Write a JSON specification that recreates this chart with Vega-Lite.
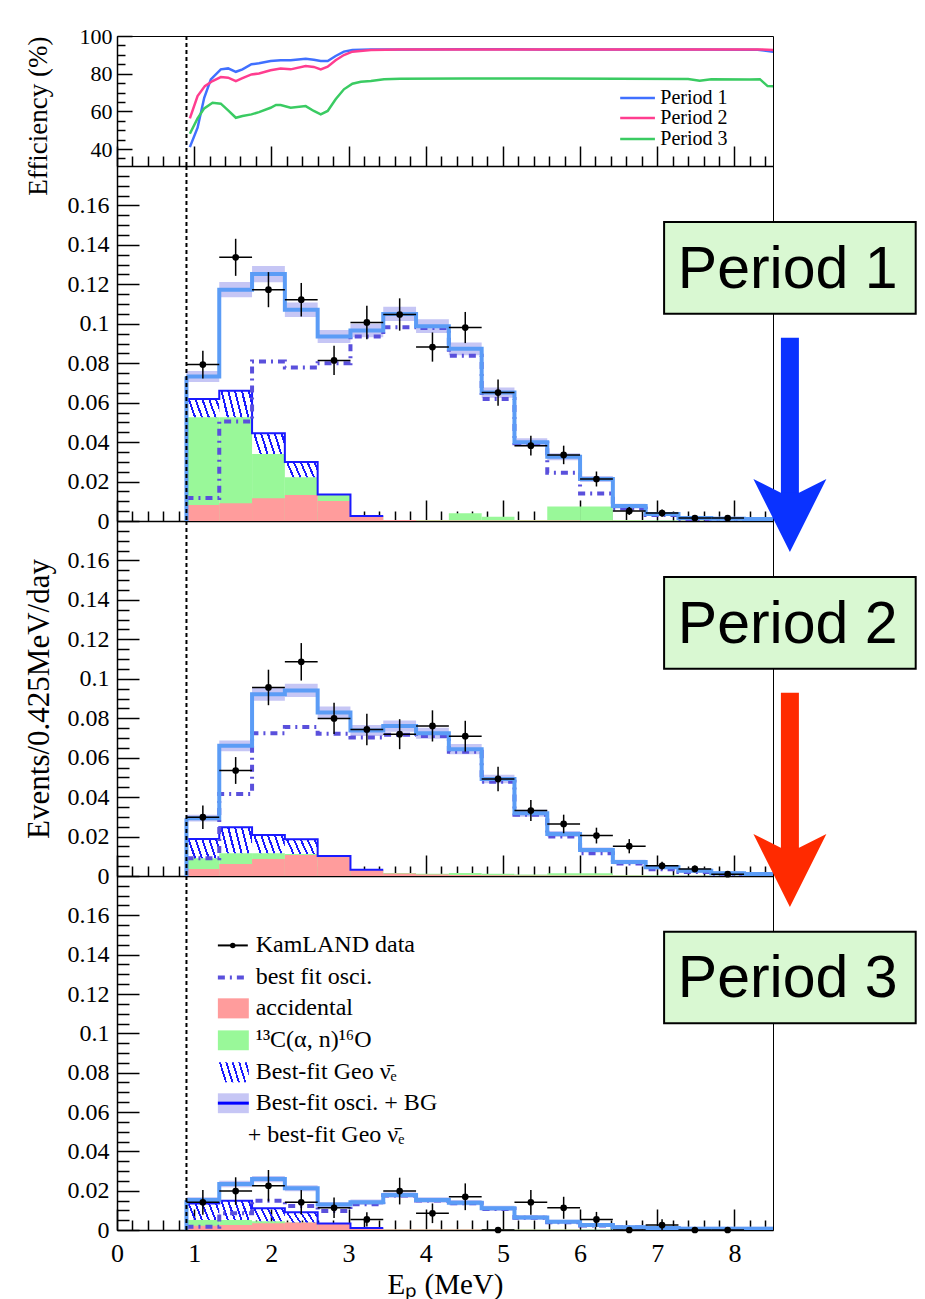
{
  "$schema": "https://vega.github.io/schema/vega-lite/v6.json",
  "background": "white",
  "padding": {"left": 22, "top": 24, "right": 0, "bottom": 0},
  "spacing": 0,
  "bounds": "flush",
  "config": {
    "view": {"stroke": "black", "strokeWidth": 1},
    "axis": {"labelFont": "Liberation Serif", "titleFont": "Liberation Serif", "labelColor": "black", "titleColor": "black", "titleFontWeight": "normal", "domainColor": "black", "domainWidth": 1.5, "tickColor": "black", "tickWidth": 1.5, "grid": false, "labelOverlap": false, "labelFlush": false, "labelBound": false},
    "text": {"font": "Liberation Serif"}
  },
  "datasets": {
    "eff": [
      {"period":"Period 1","E":0.944,"eff":41.0},{"period":"Period 1","E":1.044,"eff":51.3},{"period":"Period 1","E":1.13,"eff":67.2},{"period":"Period 1","E":1.216,"eff":77.0},{"period":"Period 1","E":1.345,"eff":82.3},{"period":"Period 1","E":1.44,"eff":82.8},{"period":"Period 1","E":1.54,"eff":81.0},{"period":"Period 1","E":1.626,"eff":82.3},{"period":"Period 1","E":1.742,"eff":85.0},{"period":"Period 1","E":1.84,"eff":85.5},{"period":"Period 1","E":1.99,"eff":86.7},{"period":"Period 1","E":2.12,"eff":87.1},{"period":"Period 1","E":2.25,"eff":87.1},{"period":"Period 1","E":2.445,"eff":87.9},{"period":"Period 1","E":2.55,"eff":87.4},{"period":"Period 1","E":2.64,"eff":86.7},{"period":"Period 1","E":2.73,"eff":86.7},{"period":"Period 1","E":2.833,"eff":89.4},{"period":"Period 1","E":2.94,"eff":91.7},{"period":"Period 1","E":3.05,"eff":92.6},{"period":"Period 1","E":3.29,"eff":92.9},{"period":"Period 1","E":3.67,"eff":92.9},{"period":"Period 1","E":4.5,"eff":93.0},{"period":"Period 1","E":5.5,"eff":92.9},{"period":"Period 1","E":6.5,"eff":92.9},{"period":"Period 1","E":7.5,"eff":92.8},{"period":"Period 1","E":8.3,"eff":92.7},{"period":"Period 1","E":8.52,"eff":91.6},
      {"period":"Period 2","E":0.944,"eff":56.3},{"period":"Period 2","E":1.044,"eff":68.1},{"period":"Period 2","E":1.138,"eff":73.4},{"period":"Period 2","E":1.238,"eff":76.1},{"period":"Period 2","E":1.345,"eff":78.2},{"period":"Period 2","E":1.44,"eff":77.9},{"period":"Period 2","E":1.54,"eff":76.1},{"period":"Period 2","E":1.626,"eff":77.6},{"period":"Period 2","E":1.742,"eff":79.6},{"period":"Period 2","E":1.84,"eff":80.1},{"period":"Period 2","E":1.99,"eff":81.8},{"period":"Period 2","E":2.12,"eff":82.8},{"period":"Period 2","E":2.25,"eff":82.3},{"period":"Period 2","E":2.445,"eff":84.1},{"period":"Period 2","E":2.55,"eff":83.6},{"period":"Period 2","E":2.64,"eff":82.3},{"period":"Period 2","E":2.73,"eff":83.7},{"period":"Period 2","E":2.833,"eff":87.1},{"period":"Period 2","E":2.94,"eff":89.9},{"period":"Period 2","E":3.05,"eff":91.7},{"period":"Period 2","E":3.29,"eff":92.6},{"period":"Period 2","E":3.67,"eff":92.9},{"period":"Period 2","E":4.5,"eff":92.9},{"period":"Period 2","E":5.5,"eff":92.9},{"period":"Period 2","E":6.5,"eff":92.8},{"period":"Period 2","E":7.5,"eff":92.8},{"period":"Period 2","E":8.3,"eff":92.9},{"period":"Period 2","E":8.52,"eff":92.6},
      {"period":"Period 3","E":0.944,"eff":48.1},{"period":"Period 3","E":1.044,"eff":56.3},{"period":"Period 3","E":1.13,"eff":61.6},{"period":"Period 3","E":1.238,"eff":64.6},{"period":"Period 3","E":1.345,"eff":64.1},{"period":"Period 3","E":1.44,"eff":60.5},{"period":"Period 3","E":1.54,"eff":56.6},{"period":"Period 3","E":1.626,"eff":57.5},{"period":"Period 3","E":1.742,"eff":58.4},{"period":"Period 3","E":1.84,"eff":59.6},{"period":"Period 3","E":1.99,"eff":61.9},{"period":"Period 3","E":2.06,"eff":63.4},{"period":"Period 3","E":2.12,"eff":63.4},{"period":"Period 3","E":2.25,"eff":61.9},{"period":"Period 3","E":2.445,"eff":62.8},{"period":"Period 3","E":2.55,"eff":60.2},{"period":"Period 3","E":2.64,"eff":58.4},{"period":"Period 3","E":2.73,"eff":60.2},{"period":"Period 3","E":2.833,"eff":66.4},{"period":"Period 3","E":2.94,"eff":71.7},{"period":"Period 3","E":3.05,"eff":74.7},{"period":"Period 3","E":3.16,"eff":75.7},{"period":"Period 3","E":3.29,"eff":76.1},{"period":"Period 3","E":3.46,"eff":77.0},{"period":"Period 3","E":3.67,"eff":77.3},{"period":"Period 3","E":4.5,"eff":77.4},{"period":"Period 3","E":5.5,"eff":77.4},{"period":"Period 3","E":6.5,"eff":77.3},{"period":"Period 3","E":7.4,"eff":77.2},{"period":"Period 3","E":7.55,"eff":76.2},{"period":"Period 3","E":7.7,"eff":77.0},{"period":"Period 3","E":8.2,"eff":76.9},{"period":"Period 3","E":8.33,"eff":77.1},{"period":"Period 3","E":8.43,"eff":73.4},{"period":"Period 3","E":8.52,"eff":73.3}
    ],
    "spec": [
      {"p":1,"i":0,"lo":0.9,"hi":1.325,"c":1.1125,"dat":0.0793,"dlo":0.0723,"dhi":0.0863,"fit":0.0733,"flo":0.0705,"fhi":0.0761,"osc":0.0117,"acc":0.0081,"bg":0.0526,"geo":0.0619},
      {"p":1,"i":1,"lo":1.325,"hi":1.75,"c":1.5375,"dat":0.1337,"dlo":0.1243,"dhi":0.1431,"fit":0.1173,"flo":0.1134,"fhi":0.1212,"osc":0.0504,"acc":0.0090,"bg":0.0526,"geo":0.0661},
      {"p":1,"i":2,"lo":1.75,"hi":2.175,"c":1.9625,"dat":0.1173,"dlo":0.1084,"dhi":0.1262,"fit":0.1252,"flo":0.1211,"fhi":0.1293,"osc":0.0809,"acc":0.0115,"bg":0.0340,"geo":0.0445},
      {"p":1,"i":3,"lo":2.175,"hi":2.6,"c":2.3875,"dat":0.1122,"dlo":0.1037,"dhi":0.1207,"fit":0.1071,"flo":0.1034,"fhi":0.1108,"osc":0.0778,"acc":0.0132,"bg":0.0222,"geo":0.0299},
      {"p":1,"i":4,"lo":2.6,"hi":3.025,"c":2.8125,"dat":0.0814,"dlo":0.0740,"dhi":0.0888,"fit":0.0936,"flo":0.0903,"fhi":0.0969,"osc":0.0800,"acc":0.0102,"bg":0.0132,"geo":0.0135},
      {"p":1,"i":5,"lo":3.025,"hi":3.45,"c":3.2375,"dat":0.1007,"dlo":0.0922,"dhi":0.1092,"fit":0.0966,"flo":0.0932,"fhi":0.1000,"osc":0.0936,"acc":0.0025,"bg":0.0025,"geo":0.0025},
      {"p":1,"i":6,"lo":3.45,"hi":3.875,"c":3.6625,"dat":0.1047,"dlo":0.0965,"dhi":0.1129,"fit":0.1050,"flo":0.1014,"fhi":0.1086,"osc":0.0983,"acc":0.0005,"bg":0.0005,"geo":0.0005},
      {"p":1,"i":7,"lo":3.875,"hi":4.3,"c":4.0875,"dat":0.0882,"dlo":0.0808,"dhi":0.0956,"fit":0.0988,"flo":0.0953,"fhi":0.1023,"osc":0.0978,"acc":0.0003,"bg":0.0005,"geo":0.0005},
      {"p":1,"i":8,"lo":4.3,"hi":4.725,"c":4.5125,"dat":0.0981,"dlo":0.0902,"dhi":0.1060,"fit":0.0873,"flo":0.0841,"fhi":0.0905,"osc":0.0838,"acc":0.0003,"bg":0.0039,"geo":0.0039},
      {"p":1,"i":9,"lo":4.725,"hi":5.15,"c":4.9375,"dat":0.0651,"dlo":0.0585,"dhi":0.0717,"fit":0.0651,"flo":0.0625,"fhi":0.0677,"osc":0.0619,"acc":0.0002,"bg":0.0022,"geo":0.0022},
      {"p":1,"i":10,"lo":5.15,"hi":5.575,"c":5.3625,"dat":0.0382,"dlo":0.0332,"dhi":0.0432,"fit":0.0399,"flo":0.0379,"fhi":0.0419,"osc":0.0394,"acc":0.0002,"bg":0.0005,"geo":0.0005},
      {"p":1,"i":11,"lo":5.575,"hi":6,"c":5.7875,"dat":0.0335,"dlo":0.0288,"dhi":0.0382,"fit":0.0326,"flo":0.0308,"fhi":0.0344,"osc":0.0245,"acc":0.0002,"bg":0.0073,"geo":0.0073},
      {"p":1,"i":12,"lo":6,"hi":6.425,"c":6.2125,"dat":0.0213,"dlo":0.0175,"dhi":0.0251,"fit":0.0213,"flo":0.0198,"fhi":0.0228,"osc":0.0140,"acc":0.0001,"bg":0.0073,"geo":0.0073},
      {"p":1,"i":13,"lo":6.425,"hi":6.85,"c":6.6375,"dat":0.0051,"dlo":0.0031,"dhi":0.0071,"fit":0.0076,"flo":0.0064,"fhi":0.0088,"osc":0.0064,"acc":0.0001,"bg":0.0005,"geo":0.0005},
      {"p":1,"i":14,"lo":6.85,"hi":7.275,"c":7.0625,"dat":0.0040,"dlo":0.0022,"dhi":0.0058,"fit":0.0036,"flo":0.0026,"fhi":0.0046,"osc":0.0030,"acc":0,"bg":0.0002,"geo":0.0002},
      {"p":1,"i":15,"lo":7.275,"hi":7.7,"c":7.4875,"dat":0.0015,"dlo":0.0004,"dhi":0.0026,"fit":0.0015,"flo":0.0005,"fhi":0.0025,"osc":0.0010,"acc":0,"bg":0.0001,"geo":0.0001},
      {"p":1,"i":16,"lo":7.7,"hi":8.125,"c":7.9125,"dat":0.0015,"dlo":0.0004,"dhi":0.0026,"fit":0.0012,"flo":0.0002,"fhi":0.0022,"osc":0.0010,"acc":0,"bg":0.0001,"geo":0.0001},
      {"p":1,"i":17,"lo":8.125,"hi":8.55,"c":8.3375,"dat":null,"dlo":null,"dhi":null,"fit":0.0010,"flo":0.0000,"fhi":0.0020,"osc":0.0010,"acc":0,"bg":0.0001,"geo":0.0001},

      {"p":2,"i":0,"lo":0.9,"hi":1.325,"c":1.1125,"dat":0.0298,"dlo":0.0238,"dhi":0.0358,"fit":0.0293,"flo":0.0276,"fhi":0.0310,"osc":0.0090,"acc":0.0036,"bg":0.0090,"geo":0.0188},
      {"p":2,"i":1,"lo":1.325,"hi":1.75,"c":1.5375,"dat":0.0535,"dlo":0.0467,"dhi":0.0603,"fit":0.0660,"flo":0.0633,"fhi":0.0687,"osc":0.0416,"acc":0.0061,"bg":0.0115,"geo":0.0247},
      {"p":2,"i":2,"lo":1.75,"hi":2.175,"c":1.9625,"dat":0.0956,"dlo":0.0866,"dhi":0.1046,"fit":0.0922,"flo":0.0889,"fhi":0.0955,"osc":0.0724,"acc":0.0086,"bg":0.0115,"geo":0.0208},
      {"p":2,"i":3,"lo":2.175,"hi":2.6,"c":2.3875,"dat":0.1086,"dlo":0.0991,"dhi":0.1181,"fit":0.0941,"flo":0.0907,"fhi":0.0975,"osc":0.0755,"acc":0.0107,"bg":0.0112,"geo":0.0186},
      {"p":2,"i":4,"lo":2.6,"hi":3.025,"c":2.8125,"dat":0.0799,"dlo":0.0720,"dhi":0.0878,"fit":0.0829,"flo":0.0798,"fhi":0.0860,"osc":0.0721,"acc":0.0098,"bg":0.0102,"geo":0.0102},
      {"p":2,"i":5,"lo":3.025,"hi":3.45,"c":3.2375,"dat":0.0743,"dlo":0.0663,"dhi":0.0823,"fit":0.0738,"flo":0.0710,"fhi":0.0766,"osc":0.0702,"acc":0.0030,"bg":0.0032,"geo":0.0032},
      {"p":2,"i":6,"lo":3.45,"hi":3.875,"c":3.6625,"dat":0.0719,"dlo":0.0643,"dhi":0.0795,"fit":0.0760,"flo":0.0731,"fhi":0.0789,"osc":0.0716,"acc":0.0013,"bg":0.0015,"geo":0.0015},
      {"p":2,"i":7,"lo":3.875,"hi":4.3,"c":4.0875,"dat":0.0761,"dlo":0.0682,"dhi":0.0840,"fit":0.0724,"flo":0.0696,"fhi":0.0752,"osc":0.0710,"acc":0.0008,"bg":0.0012,"geo":0.0012},
      {"p":2,"i":8,"lo":4.3,"hi":4.725,"c":4.5125,"dat":0.0709,"dlo":0.0631,"dhi":0.0787,"fit":0.0643,"flo":0.0617,"fhi":0.0669,"osc":0.0630,"acc":0.0005,"bg":0.0015,"geo":0.0015},
      {"p":2,"i":9,"lo":4.725,"hi":5.15,"c":4.9375,"dat":0.0492,"dlo":0.0430,"dhi":0.0554,"fit":0.0492,"flo":0.0470,"fhi":0.0514,"osc":0.0478,"acc":0.0004,"bg":0.0012,"geo":0.0012},
      {"p":2,"i":10,"lo":5.15,"hi":5.575,"c":5.3625,"dat":0.0332,"dlo":0.0279,"dhi":0.0385,"fit":0.0318,"flo":0.0300,"fhi":0.0336,"osc":0.0310,"acc":0.0003,"bg":0.0008,"geo":0.0008},
      {"p":2,"i":11,"lo":5.575,"hi":6,"c":5.7875,"dat":0.0264,"dlo":0.0217,"dhi":0.0311,"fit":0.0213,"flo":0.0198,"fhi":0.0228,"osc":0.0200,"acc":0.0002,"bg":0.0014,"geo":0.0014},
      {"p":2,"i":12,"lo":6,"hi":6.425,"c":6.2125,"dat":0.0205,"dlo":0.0165,"dhi":0.0245,"fit":0.0132,"flo":0.0119,"fhi":0.0145,"osc":0.0115,"acc":0.0002,"bg":0.0014,"geo":0.0014},
      {"p":2,"i":13,"lo":6.425,"hi":6.85,"c":6.6375,"dat":0.0151,"dlo":0.0115,"dhi":0.0187,"fit":0.0071,"flo":0.0059,"fhi":0.0083,"osc":0.0064,"acc":0.0001,"bg":0.0004,"geo":0.0004},
      {"p":2,"i":14,"lo":6.85,"hi":7.275,"c":7.0625,"dat":0.0052,"dlo":0.0032,"dhi":0.0072,"fit":0.0044,"flo":0.0034,"fhi":0.0054,"osc":0.0034,"acc":0,"bg":0.0002,"geo":0.0002},
      {"p":2,"i":15,"lo":7.275,"hi":7.7,"c":7.4875,"dat":0.0036,"dlo":0.0019,"dhi":0.0053,"fit":0.0027,"flo":0.0017,"fhi":0.0037,"osc":0.0020,"acc":0,"bg":0.0001,"geo":0.0001},
      {"p":2,"i":16,"lo":7.7,"hi":8.125,"c":7.9125,"dat":0.0009,"dlo":0.0001,"dhi":0.0017,"fit":0.0014,"flo":0.0004,"fhi":0.0024,"osc":0.0010,"acc":0,"bg":0.0001,"geo":0.0001},
      {"p":2,"i":17,"lo":8.125,"hi":8.55,"c":8.3375,"dat":null,"dlo":null,"dhi":null,"fit":0.0010,"flo":0.0000,"fhi":0.0020,"osc":0.0010,"acc":0,"bg":0.0001,"geo":0.0001},

      {"p":3,"i":0,"lo":0.9,"hi":1.325,"c":1.1125,"dat":0.0141,"dlo":0.0078,"dhi":0.0204,"fit":0.0152,"flo":0.0138,"fhi":0.0166,"osc":0.0017,"acc":0.0022,"bg":0.0051,"geo":0.0135},
      {"p":3,"i":1,"lo":1.325,"hi":1.75,"c":1.5375,"dat":0.0198,"dlo":0.0128,"dhi":0.0268,"fit":0.0234,"flo":0.0218,"fhi":0.0250,"osc":0.0085,"acc":0.0025,"bg":0.0051,"geo":0.0149},
      {"p":3,"i":2,"lo":1.75,"hi":2.175,"c":1.9625,"dat":0.0225,"dlo":0.0145,"dhi":0.0305,"fit":0.0259,"flo":0.0243,"fhi":0.0275,"osc":0.0149,"acc":0.0034,"bg":0.0045,"geo":0.0110},
      {"p":3,"i":3,"lo":2.175,"hi":2.6,"c":2.3875,"dat":0.0141,"dlo":0.0079,"dhi":0.0203,"fit":0.0212,"flo":0.0197,"fhi":0.0227,"osc":0.0122,"acc":0.0038,"bg":0.0038,"geo":0.0090},
      {"p":3,"i":4,"lo":2.6,"hi":3.025,"c":2.8125,"dat":0.0113,"dlo":0.0061,"dhi":0.0165,"fit":0.0130,"flo":0.0117,"fhi":0.0143,"osc":0.0097,"acc":0.0030,"bg":0.0033,"geo":0.0033},
      {"p":3,"i":5,"lo":3.025,"hi":3.45,"c":3.2375,"dat":0.0054,"dlo":0.0018,"dhi":0.0090,"fit":0.0141,"flo":0.0127,"fhi":0.0155,"osc":0.0131,"acc":0.0010,"bg":0.0010,"geo":0.0010},
      {"p":3,"i":6,"lo":3.45,"hi":3.875,"c":3.6625,"dat":0.0198,"dlo":0.0130,"dhi":0.0266,"fit":0.0178,"flo":0.0164,"fhi":0.0192,"osc":0.0175,"acc":0.0003,"bg":0.0003,"geo":0.0003},
      {"p":3,"i":7,"lo":3.875,"hi":4.3,"c":4.0875,"dat":0.0085,"dlo":0.0035,"dhi":0.0135,"fit":0.0152,"flo":0.0138,"fhi":0.0166,"osc":0.0150,"acc":0.0002,"bg":0.0002,"geo":0.0002},
      {"p":3,"i":8,"lo":4.3,"hi":4.725,"c":4.5125,"dat":0.0169,"dlo":0.0101,"dhi":0.0237,"fit":0.0139,"flo":0.0126,"fhi":0.0152,"osc":0.0136,"acc":0.0002,"bg":0.0003,"geo":0.0003},
      {"p":3,"i":9,"lo":4.725,"hi":5.15,"c":4.9375,"dat":0,"dlo":0,"dhi":0,"fit":0.0110,"flo":0.0097,"fhi":0.0123,"osc":0.0107,"acc":0.0001,"bg":0.0003,"geo":0.0003},
      {"p":3,"i":10,"lo":5.15,"hi":5.575,"c":5.3625,"dat":0.0141,"dlo":0.0078,"dhi":0.0204,"fit":0.0064,"flo":0.0052,"fhi":0.0076,"osc":0.0062,"acc":0.0001,"bg":0.0002,"geo":0.0002},
      {"p":3,"i":11,"lo":5.575,"hi":6,"c":5.7875,"dat":0.0113,"dlo":0.0057,"dhi":0.0169,"fit":0.0042,"flo":0.0032,"fhi":0.0052,"osc":0.0040,"acc":0.0001,"bg":0.0002,"geo":0.0002},
      {"p":3,"i":12,"lo":6,"hi":6.425,"c":6.2125,"dat":0.0054,"dlo":0.0016,"dhi":0.0092,"fit":0.0025,"flo":0.0015,"fhi":0.0035,"osc":0.0023,"acc":0,"bg":0.0001,"geo":0.0001},
      {"p":3,"i":13,"lo":6.425,"hi":6.85,"c":6.6375,"dat":0,"dlo":0,"dhi":0,"fit":0.0014,"flo":0.0004,"fhi":0.0024,"osc":0.0013,"acc":0,"bg":0.0001,"geo":0.0001},
      {"p":3,"i":14,"lo":6.85,"hi":7.275,"c":7.0625,"dat":0.0025,"dlo":0.0000,"dhi":0.0055,"fit":0.0010,"flo":0.0000,"fhi":0.0020,"osc":0.0009,"acc":0,"bg":0.0001,"geo":0.0001},
      {"p":3,"i":15,"lo":7.275,"hi":7.7,"c":7.4875,"dat":0,"dlo":0,"dhi":0,"fit":0.0006,"flo":0.0000,"fhi":0.0016,"osc":0.0005,"acc":0,"bg":0.0001,"geo":0.0001},
      {"p":3,"i":16,"lo":7.7,"hi":8.125,"c":7.9125,"dat":0,"dlo":0,"dhi":0,"fit":0.0006,"flo":0.0000,"fhi":0.0016,"osc":0.0005,"acc":0,"bg":0.0001,"geo":0.0001},
      {"p":3,"i":17,"lo":8.125,"hi":8.55,"c":8.3375,"dat":null,"dlo":null,"dhi":null,"fit":0.0006,"flo":0.0000,"fhi":0.0016,"osc":0.0005,"acc":0,"bg":0.0001,"geo":0.0001}
    ]
  },
  "vconcat": [
    {
      "width": 656, "height": 130,
      "data": {"name": "eff"},
      "layer": [
        {
          "mark": {"type": "line", "strokeWidth": 2.5, "clip": true},
          "encoding": {
            "x": {"field": "E", "type": "quantitative", "scale": {"domain": [0, 8.5], "nice": false, "zero": false},
                  "axis": {"values": [0,0.2,0.4,0.6,0.8,1,1.2,1.4,1.6,1.8,2,2.2,2.4,2.6,2.8,3,3.2,3.4,3.6,3.8,4,4.2,4.4,4.6,4.8,5,5.2,5.4,5.6,5.8,6,6.2,6.4,6.6,6.8,7,7.2,7.4,7.6,7.8,8,8.2,8.4],
                           "tickCount": 200,
                           "tickSize": {"condition": {"test": "abs(datum.value - round(datum.value)) < 0.001", "value": -20}, "value": -10},
                           "labels": false, "labelOverlap": false, "title": null}},
            "y": {"field": "eff", "type": "quantitative", "scale": {"domain": [31, 100], "nice": false, "zero": false},
                  "axis": {"values": [35,40,45,50,55,60,65,70,75,80,85,90,95,100],
                           "tickCount": 200,
                           "tickSize": {"condition": {"test": "datum.value % 20 == 0", "value": -15}, "value": -8},
                           "labelExpr": "datum.value % 20 == 0 ? format(datum.value, 'd') : ''",
                           "labelOverlap": false, "labelFlush": false,
                           "labelFontSize": 22, "labelPadding": 20, "labelBaseline": "middle",
                           "title": "Efficiency (%)", "titleFontSize": 27, "titlePadding": 27, "titleAnchor": "end"}},
            "color": {"field": "period", "type": "nominal", "scale": {"domain": ["Period 1", "Period 2", "Period 3"], "range": ["#4070ff", "#ff3d8f", "#3acb62"]}, "legend": null}
          }
        },
        {
          "data": {"values": [{"period": "Period 1", "ly": 67.1}, {"period": "Period 2", "ly": 56.5}, {"period": "Period 3", "ly": 45.3}]},
          "mark": {"type": "rule", "strokeWidth": 2.5},
          "encoding": {
            "x": {"datum": 6.52}, "x2": {"datum": 6.97},
            "y": {"field": "ly", "type": "quantitative"},
            "color": {"field": "period", "type": "nominal"}
          }
        },
        {
          "data": {"values": [{"period": "Period 1", "ly": 67.1}, {"period": "Period 2", "ly": 56.5}, {"period": "Period 3", "ly": 45.3}]},
          "mark": {"type": "text", "fontSize": 20, "align": "left", "baseline": "middle", "color": "black"},
          "encoding": {
            "x": {"datum": 7.04},
            "y": {"field": "ly", "type": "quantitative"},
            "text": {"field": "period"}
          }
        },
        {
          "data": {"values": [{}]},
          "mark": {"type": "rule", "strokeDash": [4, 3], "strokeWidth": 2, "color": "black"},
          "encoding": {"x": {"datum": 0.9}}
        }
      ]
    },
    {
      "width": 656, "height": 355,
      "data": {"name": "spec"},
      "transform": [{"filter": "datum.p == 1"}],
      "layer": [
        {
          "mark": {"type": "rect", "color": "#99f899", "clip": true},
          "encoding": {
            "x": {"field": "lo", "type": "quantitative", "scale": {"domain": [0, 8.5], "nice": false, "zero": false},
                  "axis": {"values": [0,0.2,0.4,0.6,0.8,1,1.2,1.4,1.6,1.8,2,2.2,2.4,2.6,2.8,3,3.2,3.4,3.6,3.8,4,4.2,4.4,4.6,4.8,5,5.2,5.4,5.6,5.8,6,6.2,6.4,6.6,6.8,7,7.2,7.4,7.6,7.8,8,8.2,8.4],
                           "tickCount": 200,
                           "tickSize": {"condition": {"test": "abs(datum.value - round(datum.value)) < 0.001", "value": -21}, "value": -10},
                           "labels": false, "labelOverlap": false, "title": null}},
            "x2": {"field": "hi"},
            "y": {"field": "bg", "type": "quantitative", "scale": {"domain": [0, 0.18], "nice": false, "zero": false},
                  "axis": {"values": [0,0.005,0.01,0.015,0.02,0.025,0.03,0.035,0.04,0.045,0.05,0.055,0.06,0.065,0.07,0.075,0.08,0.085,0.09,0.095,0.1,0.105,0.11,0.115,0.12,0.125,0.13,0.135,0.14,0.145,0.15,0.155,0.16,0.165,0.17,0.175],
                           "tickCount": 200,
                           "tickSize": {"condition": {"test": "abs(datum.value*50 - round(datum.value*50)) < 0.001", "value": -22}, "value": -12},
                           "labelExpr": "abs(datum.value*50 - round(datum.value*50)) < 0.001 ? format(datum.value, '~g') : ''",
                           "labelOverlap": false, "labelFlush": false,
                           "labelFontSize": 24, "labelPadding": 30, "labelBaseline": "middle", "title": null}},
            "y2": {"datum": 0}
          }
        },
        {"mark": {"type": "rect", "color": "#ff9c9c", "clip": true},
         "encoding": {"x": {"field": "lo", "type": "quantitative"}, "x2": {"field": "hi"}, "y": {"field": "acc", "type": "quantitative"}, "y2": {"datum": 0}}},
        {"mark": {"type": "rect", "clip": true, "fill": {"gradient": "linear", "x1": 0, "y1": 0.2, "x2": 1, "y2": 0, "stops": [{"offset":0,"color":"rgba(26,26,255,0)"},{"offset":0.07,"color":"rgba(26,26,255,0)"},{"offset":0.07,"color":"#1a1aff"},{"offset":0.13,"color":"#1a1aff"},{"offset":0.13,"color":"rgba(26,26,255,0)"},{"offset":0.27,"color":"rgba(26,26,255,0)"},{"offset":0.27,"color":"#1a1aff"},{"offset":0.33,"color":"#1a1aff"},{"offset":0.33,"color":"rgba(26,26,255,0)"},{"offset":0.47,"color":"rgba(26,26,255,0)"},{"offset":0.47,"color":"#1a1aff"},{"offset":0.53,"color":"#1a1aff"},{"offset":0.53,"color":"rgba(26,26,255,0)"},{"offset":0.67,"color":"rgba(26,26,255,0)"},{"offset":0.67,"color":"#1a1aff"},{"offset":0.73,"color":"#1a1aff"},{"offset":0.73,"color":"rgba(26,26,255,0)"},{"offset":0.87,"color":"rgba(26,26,255,0)"},{"offset":0.87,"color":"#1a1aff"},{"offset":0.93,"color":"#1a1aff"},{"offset":0.93,"color":"rgba(26,26,255,0)"},{"offset":1,"color":"rgba(26,26,255,0)"}]}},
         "transform": [{"filter": "datum.geo > datum.bg"}],
         "encoding": {"x": {"field": "lo", "type": "quantitative"}, "x2": {"field": "hi"}, "y": {"field": "geo", "type": "quantitative"}, "y2": {"field": "bg"}}},
        {"mark": {"type": "rect", "color": "#c6c6f5", "clip": true},
         "encoding": {"x": {"field": "lo", "type": "quantitative"}, "x2": {"field": "hi"}, "y": {"field": "flo", "type": "quantitative"}, "y2": {"field": "fhi"}}},
        {"mark": {"type": "line", "color": "#1a1aff", "strokeWidth": 2, "clip": true},
         "transform": [{"filter": "datum.i <= 5"}, {"fold": ["lo", "hi"], "as": ["side", "edge"]}],
         "encoding": {"x": {"field": "edge", "type": "quantitative"}, "y": {"field": "geo", "type": "quantitative"}, "order": [{"field": "edge", "type": "quantitative"}, {"field": "i", "type": "quantitative"}]}},
        {"mark": {"type": "rule", "color": "#1a1aff", "strokeWidth": 2},
         "transform": [{"filter": "datum.i == 0"}],
         "encoding": {"x": {"field": "lo", "type": "quantitative"}, "y": {"field": "geo", "type": "quantitative"}, "y2": {"datum": 0}}},
        {"mark": {"type": "line", "color": "#5a50dc", "strokeWidth": 4, "strokeDash": [7, 5, 2, 5], "clip": true},
         "transform": [{"fold": ["lo", "hi"], "as": ["side", "edge"]}],
         "encoding": {"x": {"field": "edge", "type": "quantitative"}, "y": {"field": "osc", "type": "quantitative"}, "order": [{"field": "edge", "type": "quantitative"}, {"field": "i", "type": "quantitative"}]}},
        {"mark": {"type": "line", "color": "#5b9cf6", "strokeWidth": 4, "clip": true},
         "transform": [{"fold": ["lo", "hi"], "as": ["side", "edge"]}],
         "encoding": {"x": {"field": "edge", "type": "quantitative"}, "y": {"field": "fit", "type": "quantitative"}, "order": [{"field": "edge", "type": "quantitative"}, {"field": "i", "type": "quantitative"}]}},
        {"mark": {"type": "rule", "color": "#5b9cf6", "strokeWidth": 4},
         "transform": [{"filter": "datum.i == 0"}],
         "encoding": {"x": {"field": "lo", "type": "quantitative"}, "y": {"field": "fit", "type": "quantitative"}, "y2": {"datum": 0}}},
        {"mark": {"type": "rule", "color": "black", "strokeWidth": 1.5},
         "transform": [{"filter": "datum.dat != null"}],
         "encoding": {"x": {"field": "lo", "type": "quantitative"}, "x2": {"field": "hi"}, "y": {"field": "dat", "type": "quantitative"}}},
        {"mark": {"type": "rule", "color": "black", "strokeWidth": 1.5},
         "transform": [{"filter": "datum.dat != null"}],
         "encoding": {"x": {"field": "c", "type": "quantitative"}, "y": {"field": "dlo", "type": "quantitative"}, "y2": {"field": "dhi"}}},
        {"mark": {"type": "point", "filled": true, "color": "black", "opacity": 1, "size": 45},
         "transform": [{"filter": "datum.dat != null"}],
         "encoding": {"x": {"field": "c", "type": "quantitative"}, "y": {"field": "dat", "type": "quantitative"}}},
        {"data": {"values": [{}]}, "mark": {"type": "rule", "strokeDash": [4, 3], "strokeWidth": 2, "color": "black"}, "encoding": {"x": {"datum": 0.9}}},
        {"data": {"values": [{}]}, "mark": {"type": "rect", "fill": "#d9f8d2", "stroke": "black", "strokeWidth": 2},
         "encoding": {"x": {"datum": 7.089}, "x2": {"datum": 10.349}, "y": {"datum": 0.1051}, "y2": {"datum": 0.1516}}},
        {"data": {"values": [{}]}, "mark": {"type": "text", "text": "Period 1", "font": "Liberation Sans", "fontSize": 59, "align": "center", "baseline": "alphabetic", "color": "black"},
         "encoding": {"x": {"datum": 8.69}, "y": {"datum": 0.1183}}},
        {"data": {"values": [{}]}, "mark": {"type": "rule", "color": "#0a32ff", "strokeWidth": 18, "strokeCap": "butt"},
         "encoding": {"x": {"datum": 8.719}, "y": {"datum": 0.0929}, "y2": {"datum": 0.0107}}},
        {"data": {"values": [{}]}, "mark": {"type": "point", "filled": true, "opacity": 1, "color": "#0a32ff", "size": 5329, "shape": "M0,1L-1,-1L-0.25,-0.62L0.25,-0.62L1,-1Z"},
         "encoding": {"x": {"datum": 8.719}, "y": {"datum": 0.0028}}}
      ]
    },
    {
      "width": 656, "height": 355,
      "data": {"name": "spec"},
      "transform": [{"filter": "datum.p == 2"}],
      "layer": [
        {
          "mark": {"type": "rect", "color": "#99f899", "clip": true},
          "encoding": {
            "x": {"field": "lo", "type": "quantitative", "scale": {"domain": [0, 8.5], "nice": false, "zero": false},
                  "axis": {"values": [0,0.2,0.4,0.6,0.8,1,1.2,1.4,1.6,1.8,2,2.2,2.4,2.6,2.8,3,3.2,3.4,3.6,3.8,4,4.2,4.4,4.6,4.8,5,5.2,5.4,5.6,5.8,6,6.2,6.4,6.6,6.8,7,7.2,7.4,7.6,7.8,8,8.2,8.4],
                           "tickCount": 200,
                           "tickSize": {"condition": {"test": "abs(datum.value - round(datum.value)) < 0.001", "value": -21}, "value": -10},
                           "labels": false, "labelOverlap": false, "title": null}},
            "x2": {"field": "hi"},
            "y": {"field": "bg", "type": "quantitative", "scale": {"domain": [0, 0.18], "nice": false, "zero": false},
                  "axis": {"values": [0,0.005,0.01,0.015,0.02,0.025,0.03,0.035,0.04,0.045,0.05,0.055,0.06,0.065,0.07,0.075,0.08,0.085,0.09,0.095,0.1,0.105,0.11,0.115,0.12,0.125,0.13,0.135,0.14,0.145,0.15,0.155,0.16,0.165,0.17,0.175],
                           "tickCount": 200,
                           "tickSize": {"condition": {"test": "abs(datum.value*50 - round(datum.value*50)) < 0.001", "value": -22}, "value": -12},
                           "labelExpr": "abs(datum.value*50 - round(datum.value*50)) < 0.001 ? format(datum.value, '~g') : ''",
                           "labelOverlap": false, "labelFlush": false,
                           "labelFontSize": 24, "labelPadding": 30, "labelBaseline": "middle",
                           "title": "Events/0.425MeV/day", "titleFontSize": 31, "titlePadding": 12}},
            "y2": {"datum": 0}
          }
        },
        {"mark": {"type": "rect", "color": "#ff9c9c", "clip": true},
         "encoding": {"x": {"field": "lo", "type": "quantitative"}, "x2": {"field": "hi"}, "y": {"field": "acc", "type": "quantitative"}, "y2": {"datum": 0}}},
        {"mark": {"type": "rect", "clip": true, "fill": {"gradient": "linear", "x1": 0, "y1": 0.2, "x2": 1, "y2": 0, "stops": [{"offset":0,"color":"rgba(26,26,255,0)"},{"offset":0.07,"color":"rgba(26,26,255,0)"},{"offset":0.07,"color":"#1a1aff"},{"offset":0.13,"color":"#1a1aff"},{"offset":0.13,"color":"rgba(26,26,255,0)"},{"offset":0.27,"color":"rgba(26,26,255,0)"},{"offset":0.27,"color":"#1a1aff"},{"offset":0.33,"color":"#1a1aff"},{"offset":0.33,"color":"rgba(26,26,255,0)"},{"offset":0.47,"color":"rgba(26,26,255,0)"},{"offset":0.47,"color":"#1a1aff"},{"offset":0.53,"color":"#1a1aff"},{"offset":0.53,"color":"rgba(26,26,255,0)"},{"offset":0.67,"color":"rgba(26,26,255,0)"},{"offset":0.67,"color":"#1a1aff"},{"offset":0.73,"color":"#1a1aff"},{"offset":0.73,"color":"rgba(26,26,255,0)"},{"offset":0.87,"color":"rgba(26,26,255,0)"},{"offset":0.87,"color":"#1a1aff"},{"offset":0.93,"color":"#1a1aff"},{"offset":0.93,"color":"rgba(26,26,255,0)"},{"offset":1,"color":"rgba(26,26,255,0)"}]}},
         "transform": [{"filter": "datum.geo > datum.bg"}],
         "encoding": {"x": {"field": "lo", "type": "quantitative"}, "x2": {"field": "hi"}, "y": {"field": "geo", "type": "quantitative"}, "y2": {"field": "bg"}}},
        {"mark": {"type": "rect", "color": "#c6c6f5", "clip": true},
         "encoding": {"x": {"field": "lo", "type": "quantitative"}, "x2": {"field": "hi"}, "y": {"field": "flo", "type": "quantitative"}, "y2": {"field": "fhi"}}},
        {"mark": {"type": "line", "color": "#1a1aff", "strokeWidth": 2, "clip": true},
         "transform": [{"filter": "datum.i <= 5"}, {"fold": ["lo", "hi"], "as": ["side", "edge"]}],
         "encoding": {"x": {"field": "edge", "type": "quantitative"}, "y": {"field": "geo", "type": "quantitative"}, "order": [{"field": "edge", "type": "quantitative"}, {"field": "i", "type": "quantitative"}]}},
        {"mark": {"type": "rule", "color": "#1a1aff", "strokeWidth": 2},
         "transform": [{"filter": "datum.i == 0"}],
         "encoding": {"x": {"field": "lo", "type": "quantitative"}, "y": {"field": "geo", "type": "quantitative"}, "y2": {"datum": 0}}},
        {"mark": {"type": "line", "color": "#5a50dc", "strokeWidth": 4, "strokeDash": [7, 5, 2, 5], "clip": true},
         "transform": [{"fold": ["lo", "hi"], "as": ["side", "edge"]}],
         "encoding": {"x": {"field": "edge", "type": "quantitative"}, "y": {"field": "osc", "type": "quantitative"}, "order": [{"field": "edge", "type": "quantitative"}, {"field": "i", "type": "quantitative"}]}},
        {"mark": {"type": "line", "color": "#5b9cf6", "strokeWidth": 4, "clip": true},
         "transform": [{"fold": ["lo", "hi"], "as": ["side", "edge"]}],
         "encoding": {"x": {"field": "edge", "type": "quantitative"}, "y": {"field": "fit", "type": "quantitative"}, "order": [{"field": "edge", "type": "quantitative"}, {"field": "i", "type": "quantitative"}]}},
        {"mark": {"type": "rule", "color": "#5b9cf6", "strokeWidth": 4},
         "transform": [{"filter": "datum.i == 0"}],
         "encoding": {"x": {"field": "lo", "type": "quantitative"}, "y": {"field": "fit", "type": "quantitative"}, "y2": {"datum": 0}}},
        {"mark": {"type": "rule", "color": "black", "strokeWidth": 1.5},
         "transform": [{"filter": "datum.dat != null"}],
         "encoding": {"x": {"field": "lo", "type": "quantitative"}, "x2": {"field": "hi"}, "y": {"field": "dat", "type": "quantitative"}}},
        {"mark": {"type": "rule", "color": "black", "strokeWidth": 1.5},
         "transform": [{"filter": "datum.dat != null"}],
         "encoding": {"x": {"field": "c", "type": "quantitative"}, "y": {"field": "dlo", "type": "quantitative"}, "y2": {"field": "dhi"}}},
        {"mark": {"type": "point", "filled": true, "color": "black", "opacity": 1, "size": 45},
         "transform": [{"filter": "datum.dat != null"}],
         "encoding": {"x": {"field": "c", "type": "quantitative"}, "y": {"field": "dat", "type": "quantitative"}}},
        {"data": {"values": [{}]}, "mark": {"type": "rule", "strokeDash": [4, 3], "strokeWidth": 2, "color": "black"}, "encoding": {"x": {"datum": 0.9}}},
        {"data": {"values": [{}]}, "mark": {"type": "rect", "fill": "#d9f8d2", "stroke": "black", "strokeWidth": 2},
         "encoding": {"x": {"datum": 7.089}, "x2": {"datum": 10.349}, "y": {"datum": 0.1051}, "y2": {"datum": 0.1516}}},
        {"data": {"values": [{}]}, "mark": {"type": "text", "text": "Period 2", "font": "Liberation Sans", "fontSize": 59, "align": "center", "baseline": "alphabetic", "color": "black"},
         "encoding": {"x": {"datum": 8.69}, "y": {"datum": 0.1183}}},
        {"data": {"values": [{}]}, "mark": {"type": "rule", "color": "#ff2a00", "strokeWidth": 18, "strokeCap": "butt"},
         "encoding": {"x": {"datum": 8.719}, "y": {"datum": 0.0929}, "y2": {"datum": 0.0107}}},
        {"data": {"values": [{}]}, "mark": {"type": "point", "filled": true, "opacity": 1, "color": "#ff2a00", "size": 5329, "shape": "M0,1L-1,-1L-0.25,-0.62L0.25,-0.62L1,-1Z"},
         "encoding": {"x": {"datum": 8.719}, "y": {"datum": 0.0028}}}
      ]
    },
    {
      "width": 656, "height": 354,
      "data": {"name": "spec"},
      "transform": [{"filter": "datum.p == 3"}],
      "layer": [
        {
          "mark": {"type": "rect", "color": "#99f899", "clip": true},
          "encoding": {
            "x": {"field": "lo", "type": "quantitative", "scale": {"domain": [0, 8.5], "nice": false, "zero": false},
                  "axis": {"values": [0,0.2,0.4,0.6,0.8,1,1.2,1.4,1.6,1.8,2,2.2,2.4,2.6,2.8,3,3.2,3.4,3.6,3.8,4,4.2,4.4,4.6,4.8,5,5.2,5.4,5.6,5.8,6,6.2,6.4,6.6,6.8,7,7.2,7.4,7.6,7.8,8,8.2,8.4],
                           "tickCount": 200,
                           "tickSize": {"condition": {"test": "abs(datum.value - round(datum.value)) < 0.001", "value": -21}, "value": -10},
                           "labelExpr": "abs(datum.value - round(datum.value)) < 0.001 ? format(datum.value, 'd') : ''",
                           "labelOverlap": false, "labelFlush": false,
                           "labelFontSize": 26, "labelPadding": 31, "labelBaseline": "top",
                           "title": "Eₚ (MeV)", "titleFontSize": 29, "titlePadding": -7}},
            "x2": {"field": "hi"},
            "y": {"field": "bg", "type": "quantitative", "scale": {"domain": [0, 0.18], "nice": false, "zero": false},
                  "axis": {"values": [0,0.005,0.01,0.015,0.02,0.025,0.03,0.035,0.04,0.045,0.05,0.055,0.06,0.065,0.07,0.075,0.08,0.085,0.09,0.095,0.1,0.105,0.11,0.115,0.12,0.125,0.13,0.135,0.14,0.145,0.15,0.155,0.16,0.165,0.17,0.175],
                           "tickCount": 200,
                           "tickSize": {"condition": {"test": "abs(datum.value*50 - round(datum.value*50)) < 0.001", "value": -22}, "value": -12},
                           "labelExpr": "abs(datum.value*50 - round(datum.value*50)) < 0.001 ? format(datum.value, '~g') : ''",
                           "labelOverlap": false, "labelFlush": false,
                           "labelFontSize": 24, "labelPadding": 30, "labelBaseline": "middle", "title": null}},
            "y2": {"datum": 0}
          }
        },
        {"mark": {"type": "rect", "color": "#ff9c9c", "clip": true},
         "encoding": {"x": {"field": "lo", "type": "quantitative"}, "x2": {"field": "hi"}, "y": {"field": "acc", "type": "quantitative"}, "y2": {"datum": 0}}},
        {"mark": {"type": "rect", "clip": true, "fill": {"gradient": "linear", "x1": 0, "y1": 0.2, "x2": 1, "y2": 0, "stops": [{"offset":0,"color":"rgba(26,26,255,0)"},{"offset":0.07,"color":"rgba(26,26,255,0)"},{"offset":0.07,"color":"#1a1aff"},{"offset":0.13,"color":"#1a1aff"},{"offset":0.13,"color":"rgba(26,26,255,0)"},{"offset":0.27,"color":"rgba(26,26,255,0)"},{"offset":0.27,"color":"#1a1aff"},{"offset":0.33,"color":"#1a1aff"},{"offset":0.33,"color":"rgba(26,26,255,0)"},{"offset":0.47,"color":"rgba(26,26,255,0)"},{"offset":0.47,"color":"#1a1aff"},{"offset":0.53,"color":"#1a1aff"},{"offset":0.53,"color":"rgba(26,26,255,0)"},{"offset":0.67,"color":"rgba(26,26,255,0)"},{"offset":0.67,"color":"#1a1aff"},{"offset":0.73,"color":"#1a1aff"},{"offset":0.73,"color":"rgba(26,26,255,0)"},{"offset":0.87,"color":"rgba(26,26,255,0)"},{"offset":0.87,"color":"#1a1aff"},{"offset":0.93,"color":"#1a1aff"},{"offset":0.93,"color":"rgba(26,26,255,0)"},{"offset":1,"color":"rgba(26,26,255,0)"}]}},
         "transform": [{"filter": "datum.geo > datum.bg"}],
         "encoding": {"x": {"field": "lo", "type": "quantitative"}, "x2": {"field": "hi"}, "y": {"field": "geo", "type": "quantitative"}, "y2": {"field": "bg"}}},
        {"mark": {"type": "rect", "color": "#c6c6f5", "clip": true},
         "encoding": {"x": {"field": "lo", "type": "quantitative"}, "x2": {"field": "hi"}, "y": {"field": "flo", "type": "quantitative"}, "y2": {"field": "fhi"}}},
        {"mark": {"type": "line", "color": "#1a1aff", "strokeWidth": 2, "clip": true},
         "transform": [{"filter": "datum.i <= 5"}, {"fold": ["lo", "hi"], "as": ["side", "edge"]}],
         "encoding": {"x": {"field": "edge", "type": "quantitative"}, "y": {"field": "geo", "type": "quantitative"}, "order": [{"field": "edge", "type": "quantitative"}, {"field": "i", "type": "quantitative"}]}},
        {"mark": {"type": "rule", "color": "#1a1aff", "strokeWidth": 2},
         "transform": [{"filter": "datum.i == 0"}],
         "encoding": {"x": {"field": "lo", "type": "quantitative"}, "y": {"field": "geo", "type": "quantitative"}, "y2": {"datum": 0}}},
        {"mark": {"type": "line", "color": "#5a50dc", "strokeWidth": 4, "strokeDash": [7, 5, 2, 5], "clip": true},
         "transform": [{"fold": ["lo", "hi"], "as": ["side", "edge"]}],
         "encoding": {"x": {"field": "edge", "type": "quantitative"}, "y": {"field": "osc", "type": "quantitative"}, "order": [{"field": "edge", "type": "quantitative"}, {"field": "i", "type": "quantitative"}]}},
        {"mark": {"type": "line", "color": "#5b9cf6", "strokeWidth": 4, "clip": true},
         "transform": [{"fold": ["lo", "hi"], "as": ["side", "edge"]}],
         "encoding": {"x": {"field": "edge", "type": "quantitative"}, "y": {"field": "fit", "type": "quantitative"}, "order": [{"field": "edge", "type": "quantitative"}, {"field": "i", "type": "quantitative"}]}},
        {"mark": {"type": "rule", "color": "#5b9cf6", "strokeWidth": 4},
         "transform": [{"filter": "datum.i == 0"}],
         "encoding": {"x": {"field": "lo", "type": "quantitative"}, "y": {"field": "fit", "type": "quantitative"}, "y2": {"datum": 0}}},
        {"mark": {"type": "rule", "color": "black", "strokeWidth": 1.5},
         "transform": [{"filter": "datum.dat != null"}],
         "encoding": {"x": {"field": "lo", "type": "quantitative"}, "x2": {"field": "hi"}, "y": {"field": "dat", "type": "quantitative"}}},
        {"mark": {"type": "rule", "color": "black", "strokeWidth": 1.5},
         "transform": [{"filter": "datum.dat != null"}],
         "encoding": {"x": {"field": "c", "type": "quantitative"}, "y": {"field": "dlo", "type": "quantitative"}, "y2": {"field": "dhi"}}},
        {"mark": {"type": "point", "filled": true, "color": "black", "opacity": 1, "size": 45},
         "transform": [{"filter": "datum.dat != null"}],
         "encoding": {"x": {"field": "c", "type": "quantitative"}, "y": {"field": "dat", "type": "quantitative"}}},
        {"data": {"values": [{}]}, "mark": {"type": "rule", "strokeDash": [4, 3], "strokeWidth": 2, "color": "black"}, "encoding": {"x": {"datum": 0.9}}},
        {"data": {"values": [{}]}, "mark": {"type": "rect", "fill": "#d9f8d2", "stroke": "black", "strokeWidth": 2},
         "encoding": {"x": {"datum": 7.089}, "x2": {"datum": 10.349}, "y": {"datum": 0.1051}, "y2": {"datum": 0.1516}}},
        {"data": {"values": [{}]}, "mark": {"type": "text", "text": "Period 3", "font": "Liberation Sans", "fontSize": 59, "align": "center", "baseline": "alphabetic", "color": "black"},
         "encoding": {"x": {"datum": 8.69}, "y": {"datum": 0.1183}}},
        {"data": {"values": [{}]}, "mark": {"type": "rule", "color": "black", "strokeWidth": 2},
         "encoding": {"x": {"datum": 1.307}, "x2": {"datum": 1.695}, "y": {"datum": 0.1447}}},
        {"data": {"values": [{}]}, "mark": {"type": "point", "filled": true, "opacity": 1, "color": "black", "size": 30},
         "encoding": {"x": {"datum": 1.5}, "y": {"datum": 0.1447}}},
        {"data": {"values": [{}]}, "mark": {"type": "rule", "color": "#5a50dc", "strokeWidth": 4, "strokeDash": [7, 5, 2, 5]},
         "encoding": {"x": {"datum": 1.307}, "x2": {"datum": 1.708}, "y": {"datum": 0.1284}}},
        {"data": {"values": [{}]}, "mark": {"type": "rect", "color": "#ff9c9c"},
         "encoding": {"x": {"datum": 1.307}, "x2": {"datum": 1.708}, "y": {"datum": 0.1076}, "y2": {"datum": 0.1178}}},
        {"data": {"values": [{}]}, "mark": {"type": "rect", "color": "#99f899"},
         "encoding": {"x": {"datum": 1.307}, "x2": {"datum": 1.708}, "y": {"datum": 0.0914}, "y2": {"datum": 0.1015}}},
        {"data": {"values": [{}]}, "mark": {"type": "rect", "fill": {"gradient": "linear", "x1": 0, "y1": 0.2, "x2": 1, "y2": 0, "stops": [{"offset":0,"color":"rgba(26,26,255,0)"},{"offset":0.07,"color":"rgba(26,26,255,0)"},{"offset":0.07,"color":"#1a1aff"},{"offset":0.13,"color":"#1a1aff"},{"offset":0.13,"color":"rgba(26,26,255,0)"},{"offset":0.27,"color":"rgba(26,26,255,0)"},{"offset":0.27,"color":"#1a1aff"},{"offset":0.33,"color":"#1a1aff"},{"offset":0.33,"color":"rgba(26,26,255,0)"},{"offset":0.47,"color":"rgba(26,26,255,0)"},{"offset":0.47,"color":"#1a1aff"},{"offset":0.53,"color":"#1a1aff"},{"offset":0.53,"color":"rgba(26,26,255,0)"},{"offset":0.67,"color":"rgba(26,26,255,0)"},{"offset":0.67,"color":"#1a1aff"},{"offset":0.73,"color":"#1a1aff"},{"offset":0.73,"color":"rgba(26,26,255,0)"},{"offset":0.87,"color":"rgba(26,26,255,0)"},{"offset":0.87,"color":"#1a1aff"},{"offset":0.93,"color":"#1a1aff"},{"offset":0.93,"color":"rgba(26,26,255,0)"},{"offset":1,"color":"rgba(26,26,255,0)"}]}},
         "encoding": {"x": {"datum": 1.307}, "x2": {"datum": 1.708}, "y": {"datum": 0.0751}, "y2": {"datum": 0.0853}}},
        {"data": {"values": [{}]}, "mark": {"type": "rect", "color": "#c6c6f5"},
         "encoding": {"x": {"datum": 1.307}, "x2": {"datum": 1.708}, "y": {"datum": 0.0594}, "y2": {"datum": 0.0695}}},
        {"data": {"values": [{}]}, "mark": {"type": "rule", "color": "#0000ff", "strokeWidth": 3},
         "encoding": {"x": {"datum": 1.307}, "x2": {"datum": 1.708}, "y": {"datum": 0.0645}}},
        {"data": {"values": [
            {"label": "KamLAND data", "lx": 1.797, "ly": 0.1447},
            {"label": "best fit osci.", "lx": 1.797, "ly": 0.1284},
            {"label": "accidental", "lx": 1.797, "ly": 0.1127},
            {"label": "¹³C(α, n)¹⁶O", "lx": 1.797, "ly": 0.0964},
            {"label": "Best-fit Geo ν̄ₑ", "lx": 1.797, "ly": 0.0802},
            {"label": "Best-fit osci. + BG", "lx": 1.797, "ly": 0.0645},
            {"label": "+ best-fit Geo ν̄ₑ", "lx": 1.695, "ly": 0.0482}
          ]},
         "mark": {"type": "text", "fontSize": 24, "align": "left", "baseline": "middle", "color": "black"},
         "encoding": {"x": {"field": "lx", "type": "quantitative"}, "y": {"field": "ly", "type": "quantitative"}, "text": {"field": "label"}}}
      ]
    }
  ]
}
